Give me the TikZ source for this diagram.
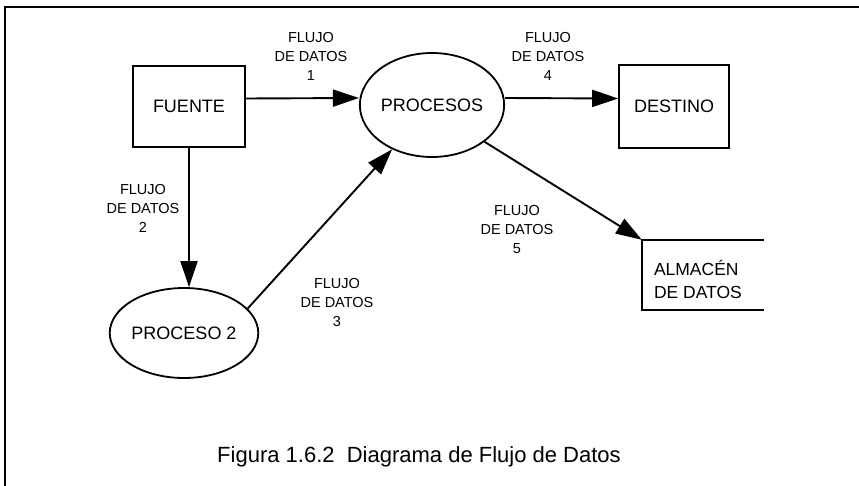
\documentclass[tikz,border=0pt]{standalone}
\usepackage{fontspec}
\setmainfont{Liberation Sans}
\usetikzlibrary{shapes.geometric,arrows.meta}
\begin{document}
\begin{tikzpicture}[x=1pt,y=-1pt,
  box/.style={draw,line width=1.8pt,minimum width=112pt,minimum height=81pt,inner sep=0pt,font=\fontsize{18}{20}\selectfont},
  proc/.style={draw,ellipse,line width=1.8pt,inner sep=0pt,font=\fontsize{18}{20}\selectfont},
  flow/.style={line width=1.9pt,-{Triangle[length=26pt,width=17pt]}},
  lbl/.style={align=center,font=\fontsize{14.5}{19}\selectfont,inner sep=0pt},
]
\useasboundingbox (0,0) rectangle (859,486);
\draw[line width=1.5pt] (859,7) -- (5,7) -- (5,486);
% nodes
\node[box] (f) at (189,106.5) {FUENTE};
\node[proc,minimum width=140pt,minimum height=104pt] (p) at (432,105) {PROCESOS};
\node[box,minimum width=110pt,minimum height=83pt] (d) at (674,106.5) {DESTINO};
\node[proc,minimum width=142pt,minimum height=90pt] (q) at (184,333) {PROCESO 2};
\node[minimum width=122pt,minimum height=70pt,inner sep=0pt] (a) at (703,275) {};
\draw[line width=1.8pt] (a.north east) -- (a.north west) -- (a.south west) -- (a.south east);
\node[anchor=west,align=left,font=\fontsize{17.5}{23}\selectfont,inner sep=0pt] (at) at ([xshift=12pt,yshift=-4pt]a.west) {ALMACÉN\\DE DATOS};
% connectors
\draw[flow] ([yshift=8pt]f.east) -- ([yshift=7pt]p.west);
\draw[flow] ([yshift=7pt]p.east) -- ([yshift=8pt]d.west);
\draw[flow] (p.-35) -- (a.north west);
\draw[flow] (f.south) -- (f.south |- q.north);
\draw[flow] (q.21) -- (p.228);
% labels
\node[lbl] (l1) at (311,56) {FLUJO\\DE DATOS\\1};
\node[lbl] (l4) at (548,56) {FLUJO\\DE DATOS\\4};
\node[lbl] (l2) at (143,208) {FLUJO\\DE DATOS\\2};
\node[lbl] (l5) at (517,230) {FLUJO\\DE DATOS\\5};
\node[lbl] (l3) at (337,303) {FLUJO\\DE DATOS\\3};
% caption
\node[font=\fontsize{22}{24}\selectfont,inner sep=0pt] (cap) at (419,457) {Figura 1.6.2\ \ Diagrama de Flujo de Datos};
\end{tikzpicture}
\end{document}
